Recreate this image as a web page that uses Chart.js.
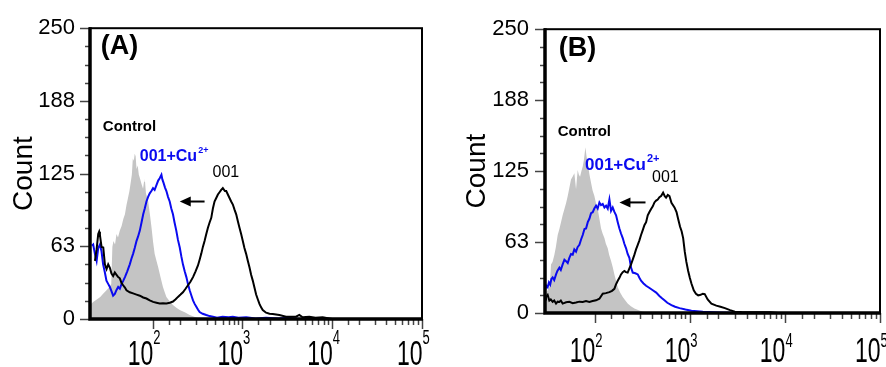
<!DOCTYPE html>
<html>
<head>
<meta charset="utf-8">
<script src="https://cdn.jsdelivr.net/npm/chart.js@4"></script>
<style>
  body { margin: 0; background: #fff; }
  .panel { position: absolute; top: 0; width: 443px; height: 367px; }
</style>
</head>
<body>
<div class="panel" style="left:0"><canvas id="chartA" width="443" height="367"></canvas></div>
<div class="panel" style="left:443px"><canvas id="chartB" width="443" height="367"></canvas></div>
<script>
// y axis ticks (labels only on every 4th)
const yTickValues = [0, 15.625, 31.25, 46.875, 62.5, 78.125, 93.75, 109.375, 125, 140.625, 156.25, 171.875, 187.5, 203.125, 218.75, 234.375, 250];
const yTickLabels = ['0', '', '', '', '63', '', '', '', '125', '', '', '', '188', '', '', '', '250'];
const xDecades = [100, 1000, 10000, 100000];
const xDecadeExp = ['2', '3', '4', '5'];

// Panel A - control (gray filled)
const ctrlA_x = [20, 21.7, 24, 26, 28, 30, 33, 34.5, 35.5, 36.5, 38, 39.5, 41, 43, 45, 47, 49, 51, 53, 55, 57, 58.5, 60, 61.5, 63, 64.5, 66, 68, 70, 72, 75, 78, 80, 81.5, 84, 89, 93, 97, 101, 105, 110, 115, 122, 130, 136, 142, 155, 168, 185, 200, 230, 258, 290, 330, 380, 100000];
const ctrlA_y = [12, 14.7, 17, 19, 21.8, 24, 27.5, 30, 62, 67, 64, 73, 70, 76, 80, 86, 90, 98, 104, 110, 118, 124, 138, 136, 142, 140, 129, 132, 124, 121, 116, 112, 118, 121, 108, 101, 90, 78.5, 66, 56, 50, 44.5, 36, 27.5, 23, 19, 15, 12, 9.5, 7.7, 5.5, 3.4, 2, 0.5, 0, 0];
// Panel A - 001+Cu2+ (blue)
const cuA_x = [21, 21.7, 22.7, 23.7, 24.7, 25.8, 26.9, 28, 29.3, 30.5, 32, 33.3, 34.7, 36.2, 37.8, 39.5, 41.2, 43, 44.9, 47, 49, 52, 55.5, 58, 60.4, 63, 65.9, 68.7, 71.8, 75, 78.3, 81.5, 85.1, 88.8, 92.6, 96.6, 100.8, 105, 110, 115, 119.6, 125, 128, 132, 137, 142, 148, 154.5, 161, 168, 175, 183, 191, 200, 208, 217, 227, 237, 247, 258, 270, 281, 293, 306, 320, 333, 360, 395, 430, 468, 520, 600, 700, 780, 900, 1100, 1400, 1832, 2500, 3200, 4300, 100000];
const cuA_y = [63, 64, 56, 50, 61, 64, 58, 47, 40, 33, 30, 27.5, 24, 20, 21.5, 25, 27.5, 26, 30, 33, 36, 41, 47, 52, 56, 61, 67, 71, 76, 83, 90, 95, 101, 105, 108, 110, 112.5, 111, 115, 119, 121, 124, 120, 117, 113, 110, 105, 101, 95, 90, 83, 76, 68, 61.5, 54, 47, 41, 36, 30, 24.7, 20, 16, 13, 10.5, 8, 6, 4.5, 3.4, 2.5, 2, 1, 2, 1.5, 2, 1, 1.5, 0.5, 1, 0.5, 1, 0, 0];
// Panel A - 001 (black)
const dA_x = [22.7, 23.7, 24.7, 25.3, 25.8, 26.9, 28.1, 29.3, 30.6, 31.9, 33.3, 34.7, 36.2, 37.8, 39.5, 41.2, 43, 44.9, 46.8, 49, 51, 55.5, 60.4, 66, 71.8, 78.3, 85.1, 92.6, 101, 110, 119.6, 130, 142, 155, 168, 180, 191, 204, 217, 232, 247, 263, 281, 300, 319, 333, 347, 362, 378, 395, 412, 430, 449, 468, 488, 510, 532, 555, 579, 604, 637, 659, 687, 717, 748, 781, 815, 851, 888, 926, 966, 1008, 1051, 1098, 1146, 1196, 1248, 1302, 1359, 1419, 1480, 1545, 1612, 1682, 1832, 2000, 2173, 2577, 3055, 3945, 4297, 4679, 5550, 6500, 7815, 9263, 10000, 100000];
const dA_y = [50, 60, 73, 75, 72, 62, 61.5, 47, 43, 47, 44, 39, 37, 40, 38, 36, 35, 31, 29, 27, 24.7, 23, 22, 21, 20, 18.5, 17.6, 16, 14.7, 14, 13.3, 13.5, 13.3, 14, 15, 17, 19, 21, 23, 26, 29, 32, 36, 41, 46, 51, 56, 62, 67, 73, 78.5, 83, 87, 95, 101, 104, 107, 109, 111, 112.5, 110, 110, 107, 104, 101, 98.4, 94, 90, 84, 78.5, 73, 67, 61, 56, 50, 44.5, 38, 33, 27, 21, 17, 13, 10, 7.7, 5.4, 4.5, 4.3, 3.4, 2, 2, 3.5, 1.5, 2, 1, 1.5, 0.5, 0, 0];

// Panel B - control (gray filled)
const ctrlB_x = [30, 30.7, 32, 33.3, 34, 34.7, 36, 37.6, 39, 40.8, 42.5, 44.2, 46, 48, 50, 52, 54, 56.3, 58.5, 61.1, 63.6, 66.2, 68, 70.1, 72.5, 74.8, 77, 79.8, 82, 84.4, 88, 91.5, 95, 99.2, 103, 107.6, 112, 116.6, 121, 126.4, 131, 137, 142, 148.6, 155, 161, 168, 174.6, 185, 197, 210, 222, 240, 261.6, 290, 320, 376, 100000];
const ctrlB_y = [15, 17, 20, 22.7, 30, 42.8, 45, 51, 58, 68.7, 74, 80, 86, 91.7, 97, 103, 110, 117.5, 120, 123, 109, 126, 122, 120, 125, 129, 135, 146, 138, 132, 122, 114.7, 108, 103, 97, 91.7, 83, 74.4, 70, 66, 61, 57, 51, 45.7, 40, 34, 28, 22.7, 18, 14, 11, 8.3, 6, 4, 2.5, 1.1, 0, 0];
// Panel B - 001+Cu2+ (blue)
const cuB_x = [30, 31, 32, 33, 34, 35, 36.1, 37.5, 39.2, 40.5, 42.5, 44, 46, 48, 49.9, 52, 54.1, 56.3, 58.7, 61, 63.6, 66, 69, 72, 74.8, 78, 81.1, 84.5, 87.9, 91.5, 95.3, 99, 103.3, 107.5, 112, 116.5, 121.4, 126.5, 131.6, 137, 142.7, 148.5, 154.6, 161, 167.7, 174.6, 181.8, 189, 197, 205, 213.6, 222, 231.5, 241, 251, 267, 283.5, 295, 307, 326, 347, 377, 408, 443, 479, 510, 545, 580, 641, 700, 780, 900, 1040, 1371, 2051, 3612, 100000];
const cuB_y = [20, 24, 22.7, 27, 25, 30, 31.3, 29, 34, 37, 40, 38, 42.8, 47, 45.7, 44, 48.6, 52, 51.4, 56, 54, 58, 60, 65, 68.7, 74, 74.4, 80, 83, 88, 88.8, 92, 94.5, 92, 97.4, 95, 96, 93, 94.5, 92, 100, 90, 93, 89, 86, 80, 74.4, 70, 66, 61, 57, 52, 48.6, 40, 35.6, 35, 34, 31, 28.4, 26, 24, 22, 20, 18, 15, 13, 11, 9, 7, 5.5, 4.3, 3, 2, 1.1, 0.5, 0, 0];
// Panel B - 001 (black)
const dB_x = [30, 30.7, 32, 33.3, 34.5, 36.1, 37.5, 39.2, 40.8, 42.5, 44, 46, 50, 54.1, 58.7, 63.6, 69, 74.8, 81, 87.9, 95, 103.3, 112, 121.4, 131, 142.7, 152, 161, 167, 174.6, 182, 189, 197, 205, 213, 222, 231, 241, 251, 261.6, 272, 283.5, 295, 307, 320, 333, 347, 361, 376, 391.6, 408, 424.6, 442, 460, 479, 499, 524, 545, 563, 587, 611, 641, 690, 725, 753, 790, 820, 851, 885, 920, 961, 1000, 1040, 1100, 1160, 1226, 1300, 1370, 1435, 1540, 1686, 1900, 2100, 2338, 2650, 2976, 3500, 5000, 7000, 8500, 100000];
const dB_y = [12, 14, 16, 11, 12, 9.8, 11, 8.3, 10, 9.8, 11, 8.3, 9.5, 9.8, 8.7, 9.2, 10, 9.8, 10.5, 9.8, 10.5, 11.2, 12.6, 17, 17.5, 18.4, 19.5, 21.3, 25, 28.4, 31, 34, 36, 37, 36, 35.6, 39, 42.8, 47, 51.4, 56, 60, 64, 68.7, 73, 77.3, 80, 86, 89, 91.7, 94, 97.4, 99, 100, 102, 103, 106, 103, 101.7, 104, 103, 97, 93, 89, 83, 76, 72, 66, 54, 45, 37, 31, 26, 20, 17, 15.5, 16, 17, 16.7, 12, 8.3, 6.5, 5.5, 4.3, 2.5, 1.1, 0.8, 0.6, 0.6, 0, 0];

const FONT = "'Liberation Sans', Arial, sans-serif";
Chart.defaults.font.family = FONT;

function pts(xs, ys) {
  return xs.map((x, i) => ({ x: x, y: ys[i] }));
}

// frame, tick marks, decade labels and annotations
const decorPlugin = {
  id: 'decor',
  afterDraw(chart) {
    const ctx = chart.ctx;
    const area = chart.chartArea;
    const xs = chart.scales.x;
    const ys = chart.scales.y;
    const cfg = chart.options.plugins.decor;
    ctx.save();

    // y tick marks
    ctx.strokeStyle = '#444';
    ctx.lineWidth = 1.5;
    yTickValues.forEach((v, i) => {
      const py = Math.round(ys.getPixelForValue(v)) + 0.5;
      const len = i % 4 === 0 ? 10 : 5;
      ctx.beginPath();
      ctx.moveTo(area.left - len, py);
      ctx.lineTo(area.left, py);
      ctx.stroke();
    });

    // x tick marks (from 10^2 upward)
    xs.ticks.forEach(t => {
      const v = t.value;
      if (v < 100 || v > xs.max) return;
      const lg = Math.log10(v);
      const major = Math.abs(lg - Math.round(lg)) < 1e-9;
      const px = Math.round(xs.getPixelForValue(v)) + 0.5;
      ctx.beginPath();
      ctx.moveTo(px, area.bottom);
      ctx.lineTo(px, area.bottom + (major ? 10 : 6));
      ctx.stroke();
    });

    // frame
    ctx.strokeStyle = '#000';
    ctx.lineWidth = 2;
    ctx.strokeRect(area.left, area.top, area.right - area.left, area.bottom - area.top);
    ctx.lineWidth = 3.5;
    ctx.beginPath();
    ctx.moveTo(area.left, area.top - 1);
    ctx.lineTo(area.left, area.bottom);
    ctx.lineTo(area.right + 1, area.bottom);
    ctx.stroke();

    // decade labels 10^n
    ctx.fillStyle = '#000';
    xDecades.forEach((v, i) => {
      const px = xs.getPixelForValue(v);
      ctx.save();
      ctx.translate(px + 0.5, area.bottom + cfg.tenBase);
      ctx.scale(1, 1.5);
      ctx.font = '23px ' + FONT;
      ctx.textAlign = 'right';
      ctx.textBaseline = 'alphabetic';
      ctx.fillText('10', 0, 0);
      ctx.restore();
      ctx.save();
      ctx.translate(px + 0.5, area.bottom + cfg.expBase);
      ctx.scale(1, 1.5);
      ctx.font = '13px ' + FONT;
      ctx.textAlign = 'left';
      ctx.textBaseline = 'alphabetic';
      ctx.fillText(xDecadeExp[i], 0, 0);
      ctx.restore();
    });

    // annotations
    cfg.notes.forEach(n => {
      if (n.arrow) {
        const x1 = xs.getPixelForValue(n.from), x2 = xs.getPixelForValue(n.to);
        const py = ys.getPixelForValue(n.y);
        ctx.strokeStyle = '#000';
        ctx.fillStyle = '#000';
        ctx.lineWidth = 2;
        ctx.beginPath();
        ctx.moveTo(x1, py);
        ctx.lineTo(x2 + 8, py);
        ctx.stroke();
        ctx.beginPath();
        ctx.moveTo(x2, py);
        ctx.lineTo(x2 + 11, py - 5);
        ctx.lineTo(x2 + 11, py + 5);
        ctx.closePath();
        ctx.fill();
        return;
      }
      const px = xs.getPixelForValue(n.x);
      const py = ys.getPixelForValue(n.y);
      ctx.font = n.font;
      ctx.fillStyle = n.color;
      ctx.textAlign = 'left';
      ctx.textBaseline = 'middle';
      ctx.fillText(n.text, px, py);
      if (n.sup) {
        const w = ctx.measureText(n.text).width;
        ctx.font = n.supFont;
        ctx.fillText(n.sup, px + w + 1, py - 6);
      }
    });
    ctx.restore();
  }
};

function makeChart(id, p) {
  return new Chart(document.getElementById(id), {
    type: 'line',
    data: {
      datasets: [
        {
          label: 'Control',
          data: pts(p.ctrlX, p.ctrlY),
          borderWidth: 0,
          borderColor: '#c4c4c4',
          backgroundColor: '#c4c4c4',
          fill: 'origin',
          pointRadius: 0,
          tension: 0,
          order: 3
        },
        {
          label: '001+Cu2+',
          data: pts(p.cuX, p.cuY),
          borderWidth: 2,
          borderColor: '#0a0af0',
          fill: false,
          pointRadius: 0,
          tension: 0,
          order: 2
        },
        {
          label: '001',
          data: pts(p.dX, p.dY),
          borderWidth: 2,
          borderColor: '#000',
          fill: false,
          pointRadius: 0,
          tension: 0,
          order: 1
        }
      ]
    },
    options: {
      responsive: false,
      animation: false,
      layout: { padding: { left: 0, top: p.area.top, right: 443 - p.area.right, bottom: 0 } },
      plugins: {
        legend: { display: false },
        tooltip: { enabled: false },
        decor: { notes: p.notes, tenBase: p.tenBase, expBase: p.expBase }
      },
      scales: {
        x: {
          type: 'logarithmic',
          min: p.xMin,
          max: 100000,
          grid: { display: false, drawTicks: false },
          border: { display: false },
          ticks: { display: false },
          afterFit: s => { s.height = 367 - p.area.bottom; }
        },
        y: {
          type: 'linear',
          min: 0,
          max: 250,
          grid: { display: false, drawTicks: false },
          border: { display: false },
          afterBuildTicks: s => { s.ticks = yTickValues.map(v => ({ value: v })); },
          ticks: {
            autoSkip: false,
            padding: p.tickPad,
            color: '#000',
            font: { size: 22 },
            callback: (v, i) => yTickLabels[i]
          },
          title: {
            display: true,
            text: 'Count',
            color: '#000',
            font: { size: 28 },
            padding: { top: p.titlePad, bottom: 0 }
          },
          afterFit: s => { s.width = p.area.left; }
        }
      }
    },
    plugins: [decorPlugin]
  });
}

makeChart('chartA', {
  xMin: 20,
  area: { left: 90, top: 25, right: 422, bottom: 319 },
  ctrlX: ctrlA_x, ctrlY: ctrlA_y, cuX: cuA_x, cuY: cuA_y, dX: dA_x, dY: dA_y,
  tickPad: 15, titlePad: 7, tenBase: 46, expBase: 25,
  notes: [
    { text: '(A)', x: 26.4, y: 234, font: 'bold 27px ' + FONT, color: '#000' },
    { text: 'Control', x: 27.8, y: 165, font: 'bold 15px ' + FONT, color: '#000' },
    { text: '001+Cu', x: 71.7, y: 140, font: 'bold 16px ' + FONT, color: '#0a0af0', sup: '2+', supFont: 'bold 9px ' + FONT },
    { text: '001', x: 464, y: 126, font: '16px ' + FONT, color: '#000' },
    { arrow: true, from: 378, to: 200, y: 101 }
  ]
});

makeChart('chartB', {
  xMin: 30,
  area: { left: 102, top: 23, right: 437, bottom: 313 },
  ctrlX: ctrlB_x, ctrlY: ctrlB_y, cuX: cuB_x, cuY: cuB_y, dX: dB_x, dY: dB_y,
  tickPad: 16, titlePad: 17, tenBase: 49, expBase: 34,
  notes: [
    { text: '(B)', x: 41.8, y: 233, font: 'bold 27px ' + FONT, color: '#000' },
    { text: 'Control', x: 40.8, y: 159.5, font: 'bold 15px ' + FONT, color: '#000' },
    { text: '001+Cu', x: 79, y: 130, font: 'bold 17px ' + FONT, color: '#0a0af0', sup: '2+', supFont: 'bold 11px ' + FONT },
    { text: '001', x: 401, y: 119, font: '16px ' + FONT, color: '#000' },
    { arrow: true, from: 342, to: 182, y: 97.4 }
  ]
});
</script>
</body>
</html>
